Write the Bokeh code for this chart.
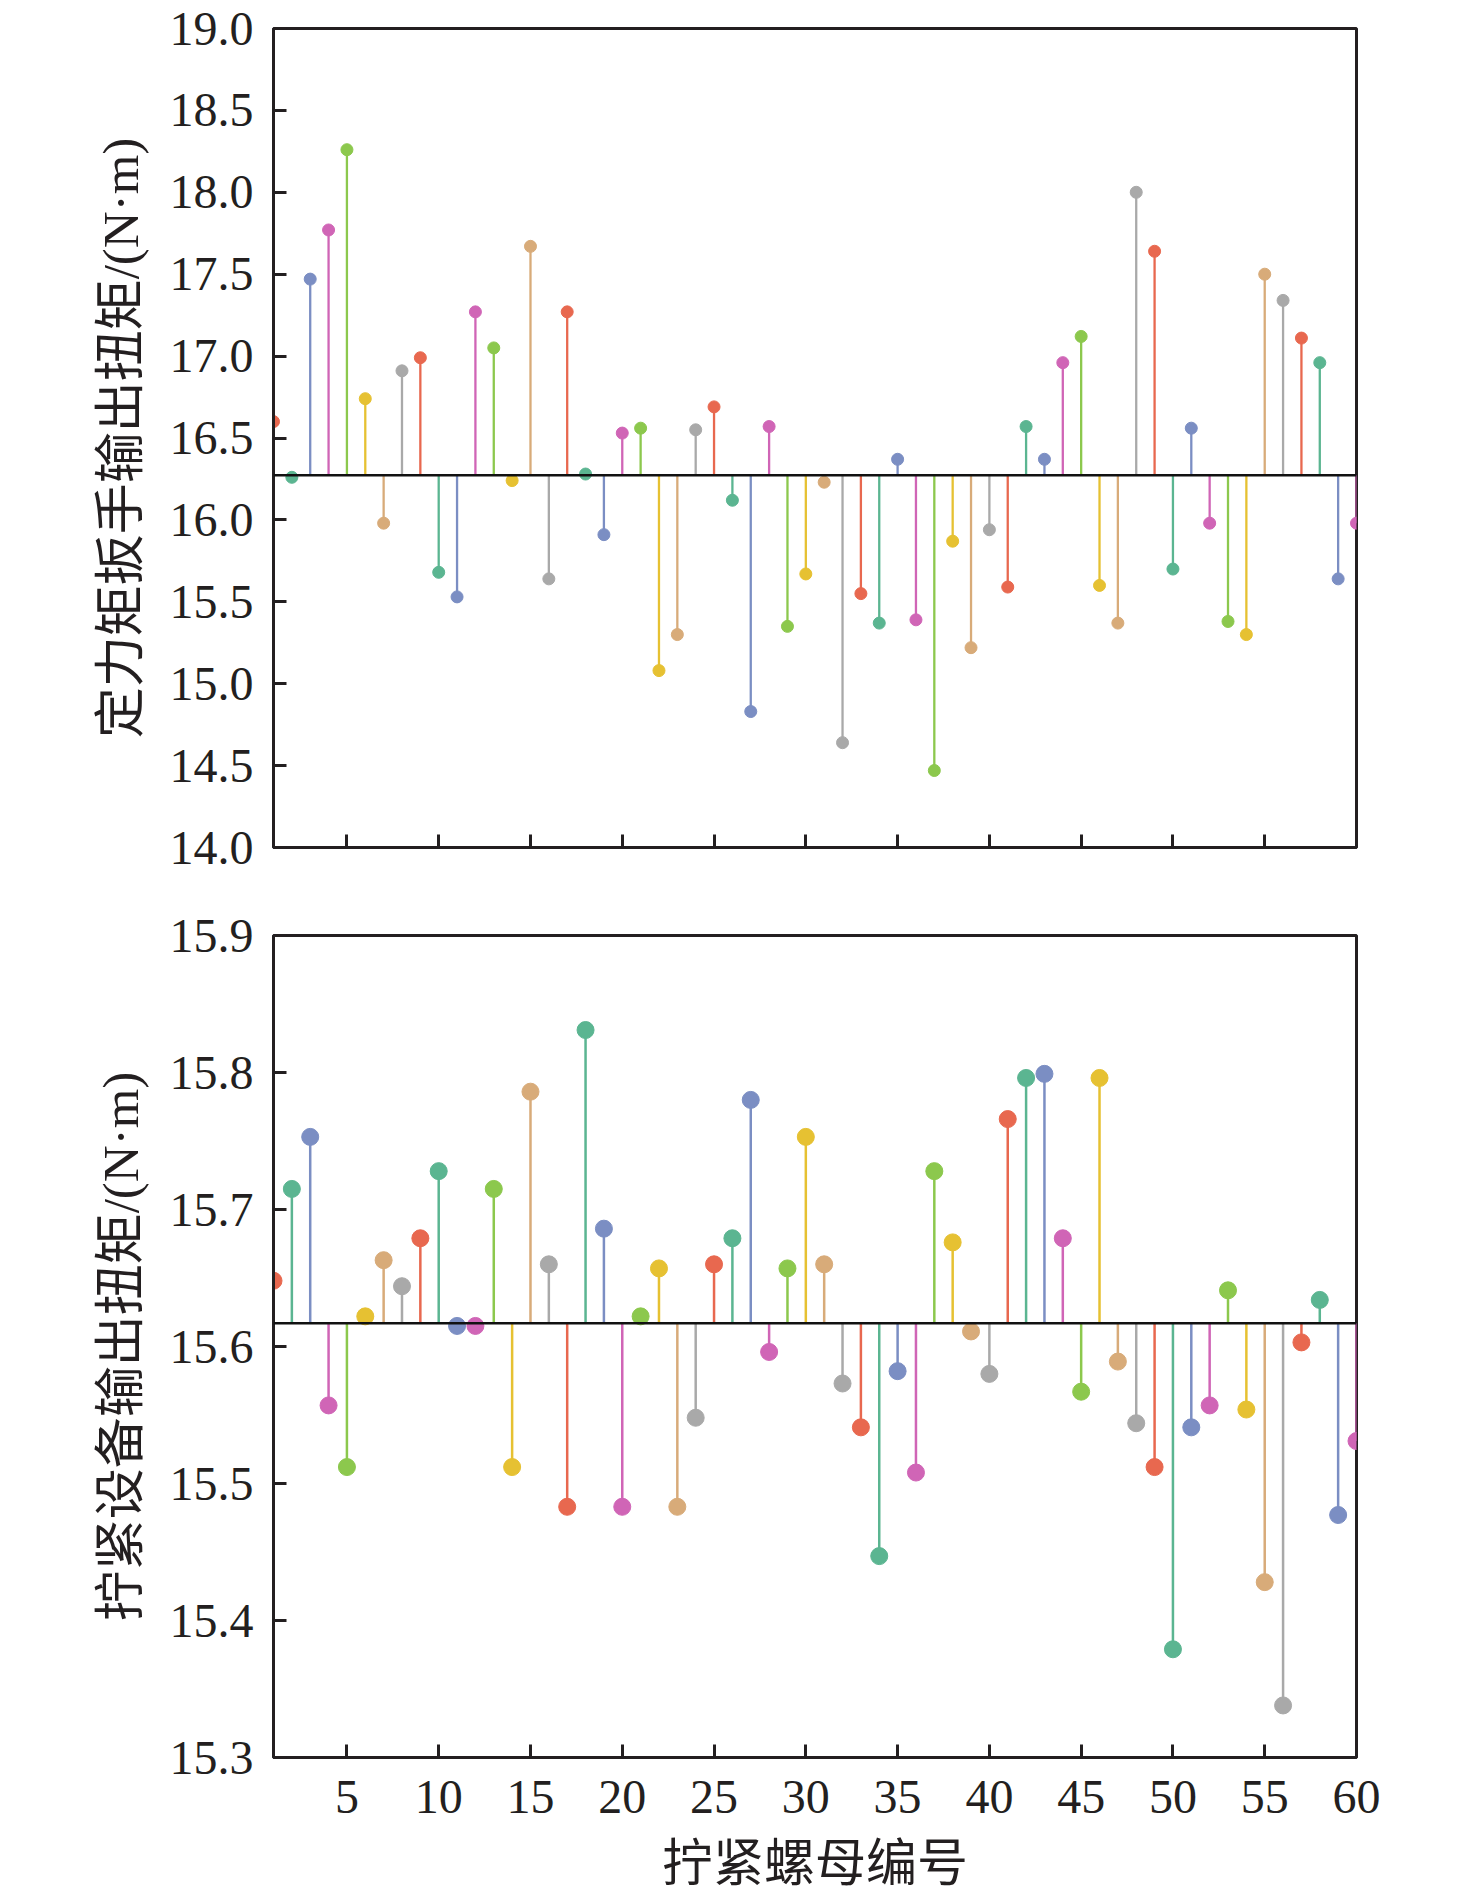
from bokeh.plotting import figure
from bokeh.layouts import column
from bokeh.models import FixedTicker, PrintfTickFormatter, Span, ColumnDataSource, Range1d
from bokeh.embed import file_html
from bokeh.resources import INLINE

nut_ids = list(range(1, 61))

wrench_torque = [16.60, 16.26, 17.47, 17.77, 18.26, 16.74, 15.98, 16.91, 16.99, 15.68,
                 15.53, 17.27, 17.05, 16.24, 17.67, 15.64, 17.27, 16.28, 15.91, 16.53,
                 16.56, 15.08, 15.30, 16.55, 16.69, 16.12, 14.83, 16.57, 15.35, 15.67,
                 16.23, 14.64, 15.55, 15.37, 16.37, 15.39, 14.47, 15.87, 15.22, 15.94,
                 15.59, 16.57, 16.37, 16.96, 17.12, 15.60, 15.37, 18.00, 17.64, 15.70,
                 16.56, 15.98, 15.38, 15.30, 17.50, 17.34, 17.11, 16.96, 15.64, 15.98]

device_torque = [15.648, 15.715, 15.753, 15.557, 15.512, 15.622, 15.663, 15.644, 15.679, 15.728,
                 15.615, 15.615, 15.715, 15.512, 15.786, 15.660, 15.483, 15.831, 15.686, 15.483,
                 15.622, 15.657, 15.483, 15.548, 15.660, 15.679, 15.780, 15.596, 15.657, 15.753,
                 15.660, 15.573, 15.541, 15.447, 15.582, 15.508, 15.728, 15.676, 15.611, 15.580,
                 15.766, 15.796, 15.799, 15.679, 15.567, 15.796, 15.589, 15.544, 15.512, 15.379,
                 15.541, 15.557, 15.641, 15.554, 15.428, 15.338, 15.603, 15.634, 15.477, 15.531]

wrench_baseline = 16.272
device_baseline = 15.617

palette = ["#e8684f", "#5bb591", "#7b8ec3", "#d065b6", "#8cc84d", "#e6c132", "#d8ab79", "#a9a9a9"]

top_ticks = [14.0, 14.5, 15.0, 15.5, 16.0, 16.5, 17.0, 17.5, 18.0, 18.5, 19.0]
bottom_ticks = [15.3, 15.4, 15.5, 15.6, 15.7, 15.8, 15.9]
x_ticks = [5, 10, 15, 20, 25, 30, 35, 40, 45, 50, 55, 60]

y_label_top = "定力矩扳手输出扭矩/(N·m)"
y_label_bottom = "拧紧设备输出扭矩/(N·m)"
x_label = "拧紧螺母编号"

FONT = "Liberation Serif, Noto Sans CJK SC"


def style(p, yticks, fmt, show_xlabels):
    p.outline_line_color = "#231f20"
    p.outline_line_width = 3
    p.outline_line_alpha = 1.0
    p.xgrid.visible = False
    p.ygrid.visible = False
    for ax in (p.xaxis[0], p.yaxis[0]):
        ax.axis_line_color = "#231f20"
        ax.axis_line_width = 3
        ax.major_tick_line_color = "#231f20"
        ax.major_tick_line_width = 3
        ax.major_tick_in = 13
        ax.major_tick_out = 0
        ax.minor_tick_line_color = None
        ax.major_label_text_font = FONT
        ax.major_label_text_font_size = "48px"
        ax.major_label_text_color = "#231f20"
        ax.axis_label_text_font = FONT
        ax.axis_label_text_font_size = "51px"
        ax.axis_label_text_font_style = "normal"
        ax.axis_label_text_color = "#231f20"
    p.yaxis[0].ticker = FixedTicker(ticks=yticks)
    p.yaxis[0].formatter = PrintfTickFormatter(format=fmt)
    p.yaxis[0].major_label_standoff = 20
    p.yaxis[0].axis_label_standoff = 18
    p.xaxis[0].ticker = FixedTicker(ticks=x_ticks)
    p.xaxis[0].major_label_standoff = 23
    p.xaxis[0].axis_label_standoff = 20
    if not show_xlabels:
        p.xaxis[0].major_label_overrides = {t: "" for t in x_ticks}


def stems(p, values, baseline, size, lw):
    colors = [palette[i % 8] for i in range(len(values))]
    src = ColumnDataSource(dict(x=nut_ids, y=values, y0=[baseline] * len(values), c=colors))
    p.segment(x0="x", y0="y0", x1="x", y1="y", source=src, line_color="c", line_width=lw)
    p.add_layout(Span(location=baseline, dimension="width", line_color="#111111", line_width=2.5))
    p.scatter(x="x", y="y", source=src, size=size, marker="circle", fill_color="c", line_color="c", line_width=1)


p1 = figure(width=1396, height=891, output_backend="svg", toolbar_location=None,
            x_range=Range1d(1, 60), y_range=Range1d(14.0, 19.0),
            min_border_left=273, min_border_right=40, min_border_top=28, min_border_bottom=44)
p1.yaxis.axis_label = y_label_top
stems(p1, wrench_torque, wrench_baseline, 12, 2.3)
style(p1, top_ticks, "%.1f", False)

p2 = figure(width=1396, height=1003, output_backend="svg", toolbar_location=None,
            x_range=Range1d(1, 60), y_range=Range1d(15.3, 15.9),
            min_border_left=273, min_border_right=40, min_border_top=44, min_border_bottom=135)
p2.yaxis.axis_label = y_label_bottom
p2.xaxis.axis_label = x_label
stems(p2, device_torque, device_baseline, 17, 2.5)
style(p2, bottom_ticks, "%.1f", True)

layout = column(p1, p2, spacing=0)
open("out.html", "w").write(file_html(layout, INLINE))
